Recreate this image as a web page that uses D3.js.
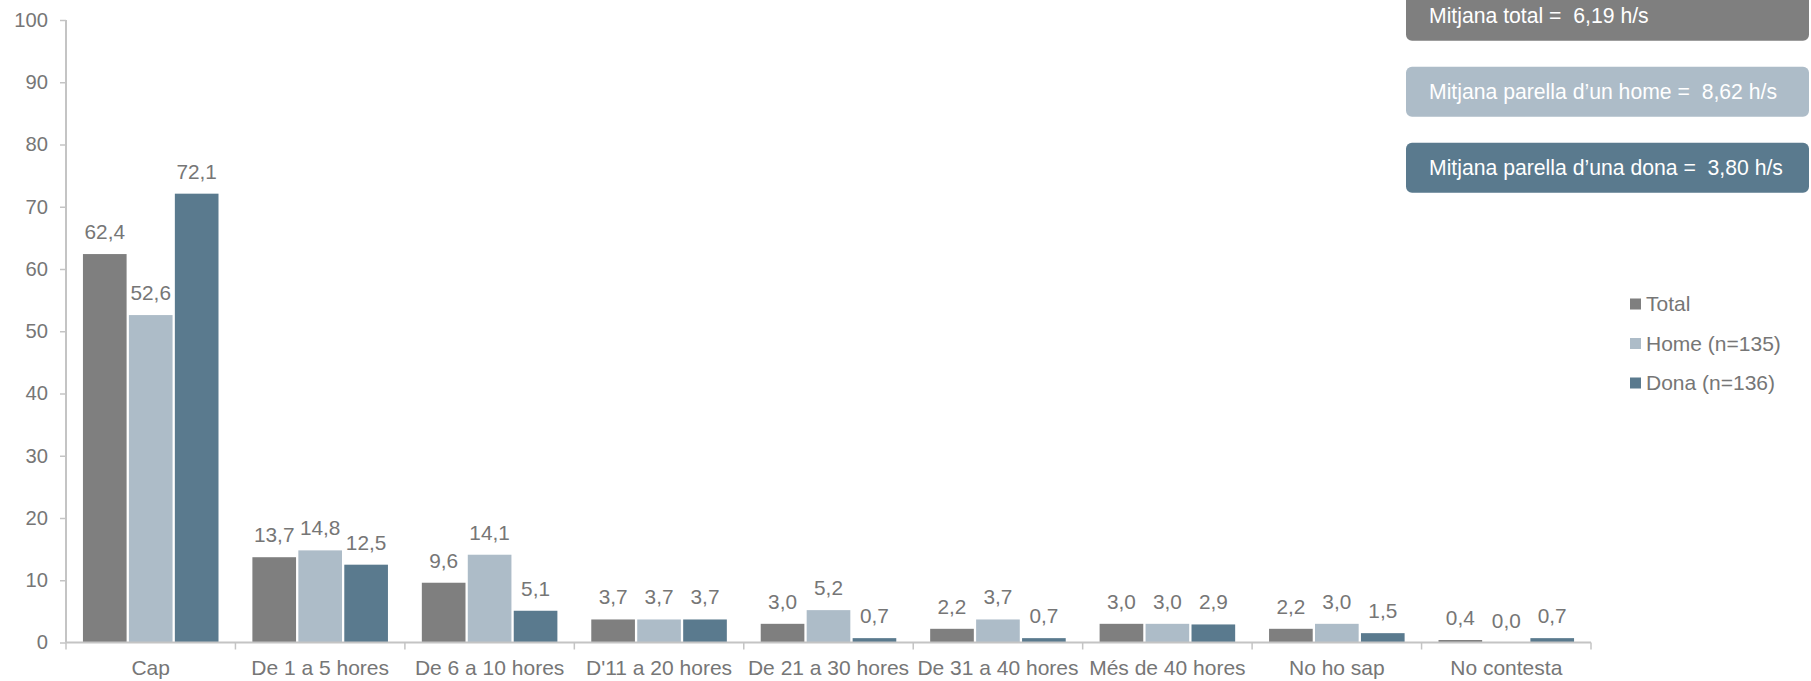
<!DOCTYPE html>
<html><head><meta charset="utf-8">
<script src="https://cdn.jsdelivr.net/npm/d3@7"></script>
<style>
html,body{margin:0;padding:0;background:#fff;}
svg{display:block;font-family:"Liberation Sans",Arial,sans-serif;}
text{white-space:pre;}
</style></head>
<body>
<svg id="chart" width="1811" height="681"></svg>
<script>
const categories = ["Cap","De 1 a 5 hores","De 6 a 10 hores","D'11 a 20 hores","De 21 a 30 hores","De 31 a 40 hores","Més de 40 hores","No ho sap","No contesta"];
const seriesNames = ["Total","Home (n=135)","Dona (n=136)"];
const totalValues = [62.4,13.7,9.6,3.7,3.0,2.2,3.0,2.2,0.4];
const homeValues = [52.6,14.8,14.1,3.7,5.2,3.7,3.0,3.0,0.0];
const donaValues = [72.1,12.5,5.1,3.7,0.7,0.7,2.9,1.5,0.7];
const yTicks = [0,10,20,30,40,50,60,70,80,90,100];
const meanLabels = ["Mitjana total =  6,19 h/s","Mitjana parella d’un home =  8,62 h/s","Mitjana parella d’una dona =  3,80 h/s"];
const colors = ["#7f7f7f","#adbcc8","#5a7a8e"];

(function(){
const svg = d3.select("#chart");
const textColor = "#767676";
const axisColor = "#c4c4c4";
const fsTick = "20.2px";
const fs = "20.8px";
const fsCat = "21px";
const fsBox = "21.2px";

const pL = 66, pR = 1591, pT = 20, pB = 642.5;
const x0 = d3.scaleBand().domain(categories).range([pL,pR]).padding(0);
const innerW = x0.bandwidth()*0.8;
const x1 = d3.scaleBand().domain(d3.range(3)).range([0,innerW]).paddingInner(0.05).paddingOuter(0);
const y = d3.scaleLinear().domain([0,100]).range([pB,pT]);

const seriesValues = [totalValues,homeValues,donaValues];
const fmt = v => d3.format(".1f")(v).replace(".",",");

// y axis
const yAxis = svg.append("g").attr("transform",`translate(${pL},0)`)
  .call(d3.axisLeft(y).tickValues(yTicks).tickSize(6).tickPadding(12).tickFormat(d=>d));
yAxis.select(".domain").attr("stroke",axisColor).attr("stroke-width",2).attr("d",`M0,${pT}V${pB}`);
yAxis.selectAll(".tick line").attr("stroke",axisColor).attr("stroke-width",1.5);
yAxis.selectAll(".tick text").attr("fill",textColor).style("font-size",fsTick).style("font-family","'Liberation Sans',Arial,sans-serif");

// bars
categories.forEach((c,i)=>{
  const g = svg.append("g").attr("transform",`translate(${x0(c)+x0.bandwidth()*0.1},0)`);
  seriesValues.forEach((vals,s)=>{
    const v = vals[i];
    g.append("rect").attr("x",x1(s)).attr("width",x1.bandwidth())
      .attr("y",y(v)).attr("height",y(0)-y(v)).attr("fill",colors[s]);
    g.append("text").attr("x",x1(s)+x1.bandwidth()/2).attr("y",y(v)-15)
      .attr("text-anchor","middle").attr("fill",textColor).style("font-size",fs).text(fmt(v));
  });
});

// x axis
const xAxis = svg.append("g").attr("transform",`translate(0,${pB})`)
  .call(d3.axisBottom(x0).tickSize(0).tickPadding(18));
xAxis.select(".domain").attr("stroke",axisColor).attr("stroke-width",2).attr("d",`M${pL},0H${pR}`);
xAxis.selectAll(".tick text").attr("fill",textColor).style("font-size",fsCat).style("font-family","'Liberation Sans',Arial,sans-serif");
xAxis.selectAll(".tick line").remove();
const bounds = categories.map(c=>x0(c)).concat([pR]);
xAxis.selectAll("line.sep").data(bounds).enter().append("line").attr("class","sep")
  .attr("x1",d=>d).attr("x2",d=>d).attr("y1",0).attr("y2",7).attr("stroke",axisColor).attr("stroke-width",1.5);

// mean boxes
const boxX = 1406, boxW = 403, boxH = 50;
const boxTops = [-9.3,66.7,142.7];
meanLabels.forEach((t,i)=>{
  svg.append("rect").attr("x",boxX).attr("y",boxTops[i]).attr("width",boxW).attr("height",boxH)
    .attr("rx",6).attr("fill",colors[i]);
  svg.append("text").attr("x",1429).attr("y",boxTops[i]+boxH/2+7.5)
    .attr("fill","#ffffff").style("font-size",fsBox).text(t);
});

// legend
const legY = [304,343.5,383];
seriesNames.forEach((n,i)=>{
  svg.append("rect").attr("x",1630).attr("y",legY[i]-5.5).attr("width",11).attr("height",11).attr("fill",colors[i]);
  svg.append("text").attr("x",1646).attr("y",legY[i]+7).attr("fill",textColor).style("font-size",fsCat).text(n);
});
})();
</script>
</body></html>
